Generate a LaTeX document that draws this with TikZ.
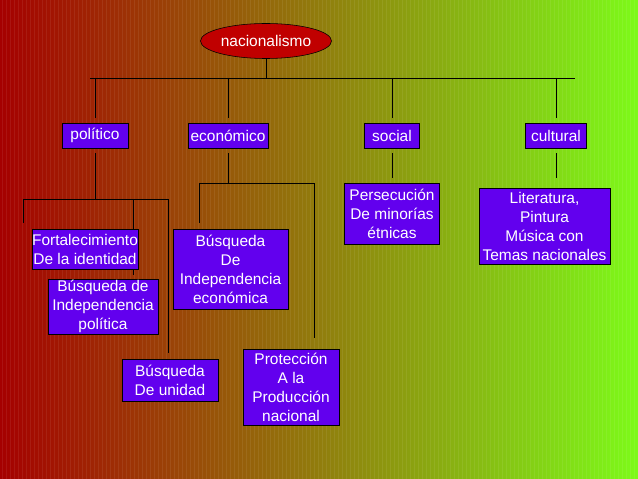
\documentclass[tikz,border=0pt]{standalone}
\usepackage{fontspec}
\setmainfont{Liberation Sans}
\usepackage{tikz}
\usetikzlibrary{shapes.geometric, positioning, calc}
\pgfdeclarelayer{fundo}
\pgfdeclarelayer{linhas}
\pgfsetlayers{fundo,linhas,main}

\begin{document}
\begin{tikzpicture}[x=0.025cm, y=-0.025cm, line width=0.7pt,
  tema/.style={draw=black, fill=azulcaixa, text=white, align=center, inner sep=0pt,
    font=\fontsize{11}{13.5}\selectfont},
  corte/.style={shorten >=#1}]
% --- NACIONALISMO: MAPA CONCEITUAL ---
\definecolor{fundoesq}{RGB}{165,0,0}
\definecolor{fundodir}{RGB}{125,250,25}
\definecolor{elipse}{RGB}{192,0,0}
\definecolor{azulcaixa}{RGB}{98,0,238}

\useasboundingbox (0,0) rectangle (638,479);

% LAYER 1: Fundo degradê com listras
\begin{pgfonlayer}{fundo}
\shade[left color=fundoesq, right color=fundodir] (0,0) rectangle (638,479);
\foreach \x in {2,6,...,638}
  \draw[white, opacity=0.07, line width=0.4pt] (\x,0) -- (\x,479);
\end{pgfonlayer}

% LAYER 2: Nós
\node[ellipse, draw=black, fill=elipse, text=white, inner sep=0pt,
  minimum width=3.275cm, minimum height=0.875cm,
  font=\fontsize{11}{13.5}\selectfont] (nac) at (266,41) {nacionalismo};

\node[tema, minimum width=1.65cm, minimum height=0.625cm] (pol) at (95,135.5) {político};
\node[tema, minimum width=2cm, minimum height=0.625cm] (eco) at (228,135.5) {económico};
\node[tema, minimum width=1.375cm, minimum height=0.625cm] (soc) at (392,135.5) {social};
\node[tema, minimum width=1.525cm, minimum height=0.625cm] (cul) at (556,135.5) {cultural};

\node[tema, minimum width=2.65cm, minimum height=1cm] (fort) at (85,249) {Fortalecimiento\\De la identidad};
\node[tema, minimum width=2.75cm, minimum height=1.375cm] (bpol) at (103,306.5) {Búsqueda de\\Independencia\\política};
\node[tema, minimum width=2.4cm, minimum height=1.05cm] (buni) at (170,380) {Búsqueda\\De unidad};
\node[tema, minimum width=2.875cm, minimum height=2cm] (bdi) at (230.5,269) {Búsqueda\\De\\Independencia\\económica};
\node[tema, minimum width=2.4cm, minimum height=1.9cm] (prot) at (291,387) {Protección\\A la\\Producción\\nacional};
\node[tema, minimum width=2.375cm, minimum height=1.525cm] (pers) at (392,213.5) {Persecución\\De minorías\\étnicas};
\node[tema, minimum width=3.275cm, minimum height=1.9cm] (lit) at (544.5,226) {Literatura,\\Pintura\\Música con\\Temas nacionales};

% LAYER 3: Conectores
\coordinate (bus) at (0,78);
\coordinate (busL) at (90,78);
\coordinate (busR) at (575,78);
\coordinate (polL) at (23,199);
\coordinate (polM) at (133,199);
\coordinate (polR) at (168,199);
\coordinate (ecoL) at (199,183);
\coordinate (ecoR) at (314,183);

\begin{pgfonlayer}{linhas}
\draw (nac.south) -- (nac.south |- bus);
\draw (busL) -- (busR);
\foreach \n in {pol,eco,soc,cul}
  \draw[corte=0.125cm] (\n.north |- bus) -- (\n.north);

% ramos de político
\draw[shorten <=0.125cm] (pol.south) -- (pol.south |- polL);
\draw (polL) -- (polR);
\draw[corte=0.15cm] (polL) -- (polL |- fort.north);
\draw[corte=0.1cm] (polM) -- (polM |- bpol.north);
\draw[corte=0.15cm] (polR) -- (polR |- buni.north);

% ramos de económico
\draw[shorten <=0.125cm] (eco.south) -- (eco.south |- ecoL);
\draw (ecoL) -- (ecoR);
\draw[corte=0.15cm] (ecoL) -- (ecoL |- bdi.north);
\draw[corte=0.275cm] (ecoR) -- (ecoR |- prot.north);

% social e cultural
\draw[shorten <=0.125cm, corte=0.125cm] (soc.south) -- (pers.north);
\draw[shorten <=0.125cm, corte=0.25cm] (cul.south) -- (cul.south |- lit.north);
\end{pgfonlayer}
\end{tikzpicture}
\end{document}
